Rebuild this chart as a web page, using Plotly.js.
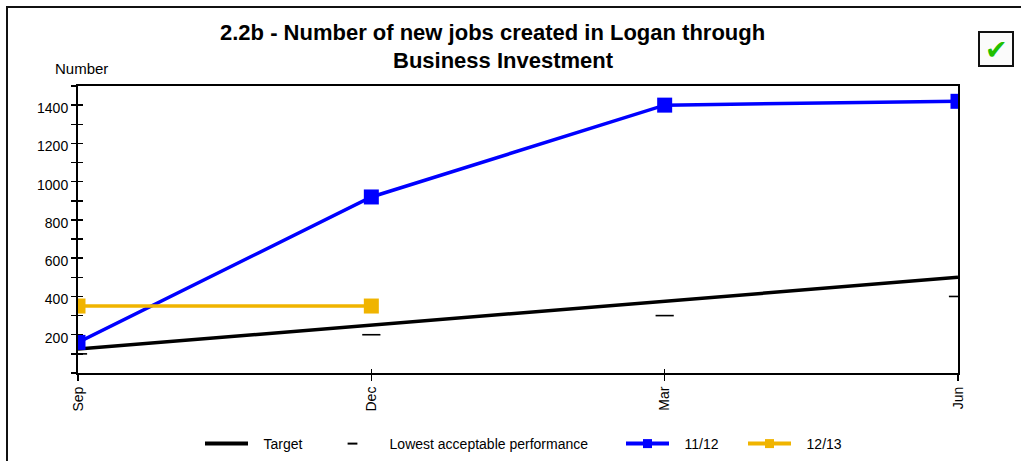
<!DOCTYPE html>
<html>
<head>
<meta charset="utf-8">
<script src="https://cdn.plot.ly/plotly-3.0.1.min.js"></script>
<style>
  html, body { margin: 0; padding: 0; background: #fff; }
  #wrap { position: relative; width: 1021px; height: 461px; overflow: hidden; }
  #chart { position: absolute; left: 0; top: 0; width: 1021px; height: 461px; }
  #frame { position: absolute; left: 6px; top: 6px; width: 1030px; height: 470px;
           border-left: 2px solid #111; border-top: 2px solid #111; pointer-events: none; }
</style>
</head>
<body>
<div id="wrap">
  <div id="chart"></div>
  <div id="frame"></div>
</div>
<script>
// ---- data ----
const months = ["Sep", "Dec", "Mar", "Jun"];
const target = [125, 250, 375, 500];
const lowestAcceptable = [100, 200, 300, 400];
const fy1112 = [160, 920, 1400, 1420];
const fy1213 = [350, 350];
const yTickVals = [200, 400, 600, 800, 1000, 1200, 1400];
const seriesNames = ["Target", "Lowest acceptable performance", "11/12", "12/13"];

const FONT = "Liberation Sans, Arial, sans-serif";
const BLUE = "#0000ff", ORANGE = "#f0b400";
const NB = "\u00a0\u00a0\u2009";

const traces = [
  { x: months, y: target, name: seriesNames[0], mode: "lines", showlegend: false,
    line: { color: "#000000", width: 3.5 }, hoverinfo: "skip" },
  { x: months, y: lowestAcceptable, name: seriesNames[1], mode: "markers", showlegend: false,
    marker: { symbol: "line-ew", size: 13, color: "#000", line: { color: "#000", width: 1.6 } },
    hoverinfo: "skip" },
  { x: months, y: fy1112, name: seriesNames[2], mode: "lines+markers", showlegend: false,
    line: { color: BLUE, width: 3.5 },
    marker: { symbol: "square", size: 15, color: BLUE }, hoverinfo: "skip" },
  { x: months.slice(0, fy1213.length), y: fy1213, name: seriesNames[3], mode: "lines+markers",
    showlegend: false, line: { color: ORANGE, width: 3.5 },
    marker: { symbol: "square", size: 15, color: ORANGE }, hoverinfo: "skip" },
  // legend-only entries (smaller legend symbols)
  { x: [null], y: [null], name: NB + seriesNames[0], mode: "lines", legend: "legend",
    line: { color: "#000", width: 4 } },
  { x: [null], y: [null], name: NB + seriesNames[1], mode: "markers", legend: "legend2",
    marker: { symbol: "line-ew", size: 7, color: "#000", line: { color: "#000", width: 2 } } },
  { x: [null], y: [null], name: NB + seriesNames[2], mode: "lines+markers", legend: "legend3",
    line: { color: BLUE, width: 4 }, marker: { symbol: "square", size: 9, color: BLUE } },
  { x: [null], y: [null], name: NB + seriesNames[3], mode: "lines+markers", legend: "legend4",
    line: { color: ORANGE, width: 4 }, marker: { symbol: "square", size: 9, color: ORANGE } },
  // invisible carrier for the overlaid tick axes (inside halves of crossing ticks)
  { x: months, y: target, xaxis: "x2", yaxis: "y2", mode: "lines", opacity: 0,
    showlegend: false, hoverinfo: "skip", line: { width: 0 } }
];

function legendAt(px) {
  return {
    orientation: "h", xref: "container", yref: "container",
    x: px / 1021, xanchor: "left", y: 1 - 444 / 461, yanchor: "middle",
    font: { family: FONT, size: 14, color: "#000" }, itemwidth: 43,
    bgcolor: "rgba(0,0,0,0)", borderwidth: 0
  };
}

const PW = 880, PH = 287.3, PL = 78, PT = 86;
const px2x = v => (v - PL) / PW;
const py2y = v => 1 + (PT - v) / PH;

const layout = {
  width: 1021, height: 461,
  margin: { l: 78, r: 63, t: 86, b: 88 },
  paper_bgcolor: "#ffffff", plot_bgcolor: "#ffffff",
  font: { family: FONT, size: 14, color: "#000" },
  xaxis: {
    type: "category", range: [0, 3], showgrid: false, zeroline: false,
    showline: true, linecolor: "#000", linewidth: 2, mirror: true,
    ticks: "outside", ticklen: 6, tickwidth: 1.5, tickcolor: "#000",
    tickangle: -90, tickfont: { family: FONT, size: 14 }
  },
  xaxis2: {
    type: "category", range: [0, 3], overlaying: "x", showgrid: false, zeroline: false,
    showline: false, ticks: "inside", ticklen: 4, tickwidth: 1.5, tickcolor: "#000",
    showticklabels: false
  },
  yaxis: {
    range: [0, 1500], showgrid: false, zeroline: false,
    showline: true, linecolor: "#000", linewidth: 2, mirror: true,
    tickmode: "array", tickvals: yTickVals,
    ticks: "outside", ticklen: 5, tickwidth: 1.5, tickcolor: "#000",
    minor: { dtick: 100, ticks: "outside", ticklen: 5, tickwidth: 1.5, tickcolor: "#000" },
    tickfont: { family: FONT, size: 14 }, ticklabelshift: 3
  },
  yaxis2: {
    range: [0, 1500], overlaying: "y", showgrid: false, zeroline: false,
    showline: false, dtick: 100, tick0: 0, ticks: "inside", ticklen: 5, tickwidth: 1.5,
    tickcolor: "#000", showticklabels: false
  },
  showlegend: true,
  legend: legendAt(200),
  legend2: legendAt(326),
  legend3: legendAt(621),
  legend4: legendAt(743),
  annotations: [
    { text: "<b>2.2b - Number of new jobs created in Logan through</b>", xref: "paper", yref: "paper",
      x: px2x(492), y: py2y(32), xanchor: "center", yanchor: "middle", showarrow: false,
      font: { family: FONT, size: 22, color: "#000" } },
    { text: "<b>Business Investment</b>", xref: "paper", yref: "paper",
      x: px2x(503), y: py2y(60), xanchor: "center", yanchor: "middle", showarrow: false,
      font: { family: FONT, size: 22, color: "#000" } },
    { text: "Number", xref: "paper", yref: "paper", x: px2x(81), y: py2y(68),
      xanchor: "center", yanchor: "middle", showarrow: false, font: { family: FONT, size: 15 } },
    { text: "✔", xref: "paper", yref: "paper", x: px2x(996), y: py2y(49),
      xanchor: "center", yanchor: "middle", showarrow: false,
      font: { family: "DejaVu Sans", size: 27, color: "#22c000" } }
  ],
  shapes: [
    { type: "rect", xref: "paper", yref: "paper",
      x0: px2x(979), x1: px2x(1013), y0: py2y(66), y1: py2y(32),
      line: { color: "#111", width: 2 }, fillcolor: "#fbfbfb", layer: "below" }
  ]
};

Plotly.newPlot("chart", traces, layout, { staticPlot: true, displayModeBar: false });
</script>
</body>
</html>
